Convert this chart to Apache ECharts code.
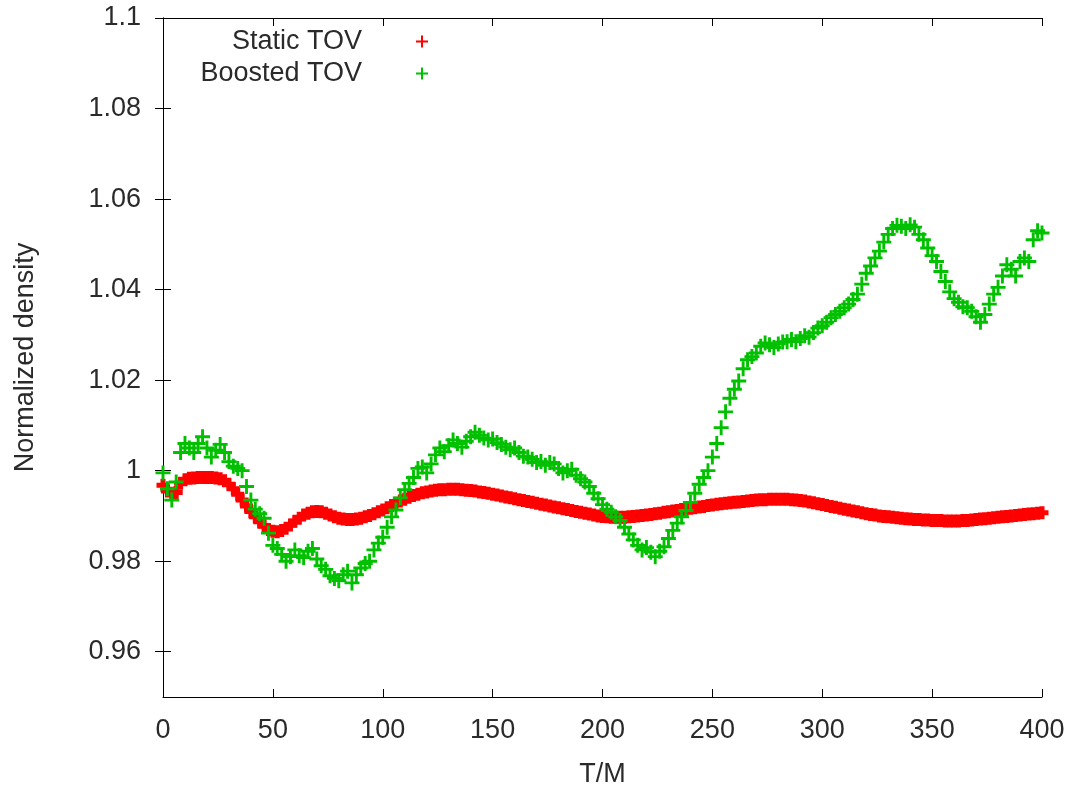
<!DOCTYPE html>
<html>
<head>
<meta charset="utf-8">
<title>Normalized density</title>
<script src="https://cdn.jsdelivr.net/npm/echarts@6/dist/echarts.min.js"></script>
<style>
  html, body { margin: 0; padding: 0; background: #fff; }
  #chart { width: 1067px; height: 789px; }
</style>
</head>
<body>
<div id="chart"></div>
<script>
// Sampling step in T/M for both runs (T = 0 .. 400)
const T_STEP = 2;

// Central density normalised to its initial value, static star
const staticTOV = [
  0.9968,0.9955,0.9950,0.9952,0.9972,0.9980,0.9983,0.9984,0.9985,0.9985,
  0.9985,0.9985,0.9984,0.9982,0.9978,0.9970,0.9960,0.9948,0.9935,0.9922,
  0.9910,0.9898,0.9887,0.9877,0.9870,0.9866,0.9865,0.9868,0.9873,0.9880,
  0.9888,0.9895,0.9902,0.9906,0.9909,0.9910,0.9909,0.9906,0.9902,0.9898,
  0.9895,0.9893,0.9892,0.9892,0.9893,0.9895,0.9898,0.9901,0.9905,0.9909,
  0.9913,0.9918,0.9923,0.9928,0.9933,0.9937,0.9941,0.9945,0.9948,0.9951,
  0.9953,0.9955,0.9957,0.9958,0.9958,0.9959,0.9959,0.9959,0.9958,0.9957,
  0.9956,0.9955,0.9953,0.9952,0.9950,0.9948,0.9946,0.9944,0.9942,0.9940,
  0.9938,0.9936,0.9934,0.9932,0.9930,0.9928,0.9926,0.9924,0.9922,0.9920,
  0.9918,0.9916,0.9914,0.9912,0.9910,0.9908,0.9906,0.9904,0.9902,0.9900,
  0.9899,0.9898,0.9897,0.9897,0.9897,0.9897,0.9898,0.9899,0.9900,0.9901,
  0.9902,0.9903,0.9905,0.9906,0.9908,0.9909,0.9911,0.9912,0.9914,0.9915,
  0.9917,0.9918,0.9920,0.9921,0.9923,0.9924,0.9926,0.9927,0.9928,0.9929,
  0.9930,0.9931,0.9932,0.9933,0.9934,0.9935,0.9936,0.9936,0.9937,0.9937,
  0.9937,0.9937,0.9937,0.9936,0.9935,0.9934,0.9933,0.9931,0.9929,0.9927,
  0.9925,0.9923,0.9921,0.9919,0.9917,0.9915,0.9913,0.9911,0.9909,0.9907,
  0.9905,0.9903,0.9902,0.9900,0.9899,0.9898,0.9897,0.9896,0.9895,0.9894,
  0.9893,0.9892,0.9892,0.9891,0.9891,0.9890,0.9890,0.9890,0.9889,0.9889,
  0.9889,0.9889,0.9890,0.9890,0.9891,0.9892,0.9893,0.9894,0.9895,0.9896,
  0.9897,0.9898,0.9899,0.9900,0.9901,0.9902,0.9903,0.9904,0.9905,0.9906,
  0.9907
];

// Same quantity for the boosted star
const boostedTOV = [
  0.9995,0.9960,0.9935,0.9975,1.0040,1.0060,1.0050,1.0040,1.0060,1.0075,
  1.0050,1.0030,1.0045,1.0058,1.0040,1.0020,1.0010,1.0005,1.0000,0.9965,
  0.9935,0.9915,0.9905,0.9895,0.9862,0.9835,0.9828,0.9815,0.9800,0.9810,
  0.9825,0.9812,0.9808,0.9822,0.9828,0.9805,0.9790,0.9782,0.9768,0.9762,
  0.9757,0.9770,0.9778,0.9752,0.9770,0.9785,0.9795,0.9800,0.9825,0.9840,
  0.9853,0.9875,0.9898,0.9913,0.9940,0.9958,0.9972,0.9985,1.0005,1.0008,
  0.9995,1.0015,1.0035,1.0050,1.0042,1.0055,1.0068,1.0060,1.0052,1.0065,
  1.0075,1.0085,1.0078,1.0072,1.0068,1.0070,1.0062,1.0058,1.0052,1.0046,
  1.0050,1.0040,1.0032,1.0030,1.0025,1.0018,1.0020,1.0012,1.0018,1.0015,
  1.0005,0.9995,1.0000,1.0003,0.9990,0.9982,0.9975,0.9965,0.9950,0.9938,
  0.9925,0.9915,0.9908,0.9898,0.9890,0.9875,0.9860,0.9847,0.9835,0.9825,
  0.9830,0.9820,0.9810,0.9822,0.9832,0.9850,0.9868,0.9884,0.9898,0.9912,
  0.9930,0.9950,0.9970,0.9985,1.0000,1.0030,1.0060,1.0095,1.0130,1.0160,
  1.0180,1.0198,1.0225,1.0245,1.0252,1.0260,1.0275,1.0282,1.0278,1.0272,
  1.0280,1.0284,1.0285,1.0290,1.0285,1.0292,1.0298,1.0295,1.0305,1.0315,
  1.0320,1.0328,1.0338,1.0345,1.0352,1.0360,1.0368,1.0378,1.0390,1.0412,
  1.0436,1.0452,1.0470,1.0485,1.0505,1.0522,1.0535,1.0542,1.0540,1.0535,
  1.0543,1.0538,1.0522,1.0510,1.0492,1.0475,1.0462,1.0440,1.0418,1.0395,
  1.0380,1.0372,1.0362,1.0360,1.0352,1.0340,1.0328,1.0345,1.0368,1.0390,
  1.0405,1.0430,1.0455,1.0445,1.0430,1.0462,1.0470,1.0462,1.0510,1.0530,
  1.0525
];

const seriesNames = ['Static TOV', 'Boosted TOV'];
const yTicks = [0.96, 0.98, 1, 1.02, 1.04, 1.06, 1.08, 1.1];

// "+" point markers: thin for the legend, heavier for the dense data rows
const PLUS_THIN = 'path://M5,0h2v5h5v2h-5v5h-2v-5h-5v-2h5z';
const PLUS_MID = 'path://M10.5,0h5v10.5h10.5v5h-10.5v10.5h-5v-10.5h-10.5v-5h10.5z';
const PLUS_BOLD = 'path://M4,0h5v4h4v5h-4v4h-5v-4h-4v-5h4z';

const FONT = '"Liberation Sans", Arial, sans-serif';
const INK = '#2a2a2a';
const FS = 27;

const toPoints = arr => arr.map((v, i) => [i * T_STEP, v]);

const tickStyle = { show: true, inside: true, length: 8, lineStyle: { color: '#000', width: 1 } };
const lineStyle = { show: true, lineStyle: { color: '#000', width: 1 } };

const chart = echarts.init(document.getElementById('chart'), null, { renderer: 'canvas' });
chart.setOption({
  animation: false,
  backgroundColor: '#fff',
  textStyle: { fontFamily: FONT },
  grid: { left: 163, right: 25, top: 18, bottom: 92, containLabel: false, outerBoundsMode: 'none' },
  legend: {
    orient: 'vertical',
    align: 'right',
    right: 639,
    top: 28,
    padding: 0,
    itemGap: 5,
    itemWidth: 12,
    itemHeight: 12,
    selectedMode: false,
    textStyle: { fontFamily: FONT, fontSize: FS, color: INK, padding: [0, 49, 0, 0] },
    data: [
      { name: seriesNames[0], icon: PLUS_THIN, itemStyle: { color: '#ff0000' } },
      { name: seriesNames[1], icon: PLUS_THIN, itemStyle: { color: '#00c000' } }
    ]
  },
  xAxis: [
    {
      type: 'value', position: 'bottom', min: 0, max: 400, interval: 50,
      name: 'T/M', nameLocation: 'middle', nameGap: 64,
      nameTextStyle: { fontFamily: FONT, fontSize: FS, color: INK },
      axisLine: lineStyle, axisTick: tickStyle,
      axisLabel: { fontFamily: FONT, fontSize: FS, color: INK, margin: 20 },
      splitLine: { show: false }
    },
    {
      type: 'value', position: 'top', min: 0, max: 400, interval: 50,
      axisLine: lineStyle, axisTick: tickStyle,
      axisLabel: { show: false }, splitLine: { show: false }
    }
  ],
  yAxis: [
    {
      type: 'value', position: 'left', min: 0.95, max: 1.1,
      name: 'Normalized density', nameLocation: 'middle', nameGap: 124, nameRotate: 90,
      nameTextStyle: { fontFamily: FONT, fontSize: FS, color: INK },
      axisLine: lineStyle,
      axisTick: Object.assign({}, tickStyle, { customValues: yTicks }),
      axisLabel: { fontFamily: FONT, fontSize: FS, color: INK, margin: 22, customValues: yTicks },
      splitLine: { show: false }
    },
    {
      type: 'value', position: 'right', min: 0.95, max: 1.1,
      axisLine: lineStyle,
      axisTick: Object.assign({}, tickStyle, { customValues: yTicks }),
      axisLabel: { show: false }, splitLine: { show: false }
    }
  ],
  series: [
    {
      name: seriesNames[0], type: 'scatter', xAxisIndex: 0, yAxisIndex: 0,
      symbol: PLUS_BOLD, symbolSize: 13,
      itemStyle: { color: '#ff0000', opacity: 1 },
      data: toPoints(staticTOV), z: 2
    },
    {
      name: seriesNames[1], type: 'scatter', xAxisIndex: 0, yAxisIndex: 0,
      symbol: PLUS_MID, symbolSize: 15,
      itemStyle: { color: '#00c000', opacity: 1 },
      data: toPoints(boostedTOV), z: 3
    }
  ]
});
</script>
</body>
</html>
